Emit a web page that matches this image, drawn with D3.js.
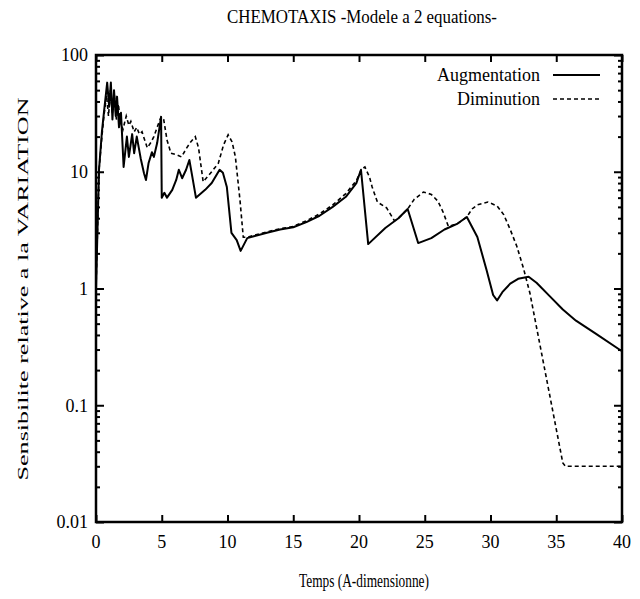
<!DOCTYPE html>
<html><head><meta charset="utf-8">
<script src="https://cdn.jsdelivr.net/npm/d3@7"></script>
<style>body{margin:0;background:#fff}svg{display:block}text{font-family:"Liberation Serif","Times New Roman",serif;fill:#000}</style>
</head><body>
<script>
const title = "CHEMOTAXIS -Modele a 2 equations-";
const xLabel = "Temps (A-dimensionne)";
const yLabel = "Sensibilite relative a la  VARIATION";
const seriesNames = ["Augmentation", "Diminution"];
const xTicks = [0, 5, 10, 15, 20, 25, 30, 35, 40];
const yTicks = [0.01, 0.1, 1, 10, 100];
const yTickLabels = ["0.01", "0.1", "1", "10", "100"];

const augT = [0,0.23,0.45,0.6,0.85,1.0,1.13,1.25,1.37,1.5,1.6,1.75,1.9,2.1,2.35,2.5,2.75,2.9,3.1,3.4,3.65,3.8,4.0,4.25,4.4,4.65,4.95,5.0,5.2,5.4,5.8,6.1,6.3,6.55,6.85,7.1,7.3,7.6,8.3,8.8,9.4,9.65,9.95,10.3,10.7,11.0,11.5,12.0,13.0,14.0,15.0,16.0,17.0,18.0,19.0,19.8,20.15,20.7,22.0,23.0,23.7,24.5,25.5,26.5,27.5,28.2,29.0,29.7,30.2,30.5,30.9,31.5,32.1,32.9,33.5,34.5,35.5,36.5,38.0,40.0];
const augV = [1,10.4,22,32,58,36,58,28,50,30,44,24,32,11,20,13.4,21,14.4,20,13,9.7,8.5,11.9,14.7,13.4,17.6,29.5,6.0,6.6,6.0,7.0,8.5,10.4,8.8,10.4,12.6,9.4,6.0,7.0,8.0,10.4,9.8,7.4,3.0,2.6,2.1,2.7,2.8,3.0,3.2,3.35,3.7,4.2,5.0,6.1,8.0,10.4,2.4,3.3,4.0,4.8,2.45,2.7,3.2,3.6,4.1,2.76,1.44,0.88,0.79,0.93,1.1,1.21,1.26,1.12,0.86,0.66,0.53,0.41,0.29];

const dimT = [0,0.23,0.45,0.6,0.8,0.95,1.1,1.25,1.4,1.55,1.7,1.85,2.05,2.3,2.5,2.65,2.9,3.1,3.3,3.5,3.65,3.9,4.2,4.4,4.65,4.95,5.15,5.4,5.7,6.1,6.5,6.9,7.2,7.55,7.8,8.15,8.7,9.3,9.7,10.05,10.35,10.6,10.95,11.2,11.5,12.0,13.0,14.0,15.0,16.0,17.0,18.0,19.0,19.8,20.2,20.45,20.8,21.0,21.4,22.1,22.7,23.0,23.7,24.2,24.9,25.5,26.0,26.4,26.8,27.5,28.2,28.6,29.0,29.8,30.5,31.0,31.5,32.0,32.5,33.0,34.3,35.5,35.7,40];
const dimV = [1,10.4,20,30,45,30,50,32,45,28,38,27,23,30,25,27,22,24,21,22,19.5,16,18,20,24,29.5,28,18.7,14.4,14,13.4,16,18,20,16,8.2,9.7,11.8,17,20.7,18,13.4,5.7,2.75,2.75,2.85,3.05,3.25,3.4,3.8,4.35,5.2,6.5,8.4,10.5,11,9,7.4,5.5,4.9,3.8,4.0,4.8,5.8,6.7,6.4,5.6,4.5,3.4,3.6,4.1,4.8,5.2,5.5,5.1,4.3,3.2,2.3,1.5,0.91,0.16,0.032,0.03,0.03];

const W = 640, H = 599;
const L = 96, R = 622, T = 55, B = 522;
const svg = d3.select("body").append("svg").attr("width", W).attr("height", H);

const x = d3.scaleLinear().domain([0, 40]).range([L, R]);
const y = d3.scaleLog().domain([0.01, 100]).range([B, T]);

const minor = [];
for (let e = -2; e < 2; e++) for (let k = 2; k <= 9; k++) minor.push(k * Math.pow(10, e));

const g = svg.append("g");
g.append("g").attr("transform", `translate(${L},0)`)
  .call(d3.axisRight(y).tickValues(minor).tickSize(4).tickFormat(""))
  .call(a => a.select(".domain").remove());
g.append("g").attr("transform", `translate(${L},0)`)
  .call(d3.axisRight(y).tickValues(yTicks).tickSize(8).tickFormat(""))
  .call(a => a.select(".domain").remove());
g.append("g").attr("transform", `translate(${R},0)`)
  .call(d3.axisLeft(y).tickValues(minor).tickSize(4).tickFormat(""))
  .call(a => a.select(".domain").remove());
g.append("g").attr("transform", `translate(${R},0)`)
  .call(d3.axisLeft(y).tickValues(yTicks).tickSize(8).tickFormat(""))
  .call(a => a.select(".domain").remove());
g.append("g").attr("transform", `translate(0,${B})`)
  .call(d3.axisTop(x).tickValues(xTicks).tickSize(7).tickFormat(""))
  .call(a => a.select(".domain").remove());
g.append("g").attr("transform", `translate(0,${T})`)
  .call(d3.axisBottom(x).tickValues(xTicks).tickSize(7).tickFormat(""))
  .call(a => a.select(".domain").remove());
g.selectAll(".tick line").attr("stroke", "#000").attr("stroke-width", 2);

svg.append("g").selectAll("text").data(yTicks).join("text")
  .attr("x", L - 8).attr("y", d => y(d)).attr("dy", "0.35em")
  .attr("text-anchor", "end").attr("font-size", 18)
  .text((d, i) => yTickLabels[i]);
svg.append("g").selectAll("text").data(xTicks).join("text")
  .attr("x", d => x(d)).attr("y", 548)
  .attr("text-anchor", "middle").attr("font-size", 18)
  .text(d => d);

svg.append("rect").attr("x", L).attr("y", T).attr("width", R - L).attr("height", B - T)
  .attr("fill", "none").attr("stroke", "#000").attr("stroke-width", 2.5);

const line = d3.line().x(d => x(d[0])).y(d => y(d[1]));
svg.append("path").datum(augT.map((t, i) => [t, augV[i]]))
  .attr("d", line).attr("fill", "none").attr("stroke", "#000").attr("stroke-width", 2)
  .attr("stroke-linejoin", "round");
svg.append("path").datum(dimT.map((t, i) => [t, dimV[i]]))
  .attr("d", line).attr("fill", "none").attr("stroke", "#000").attr("stroke-width", 1.6)
  .attr("stroke-dasharray", "4,3");

const leg = svg.append("g");
[[seriesNames[0], 75, null], [seriesNames[1], 99, "4,3"]].forEach(([name, ly, dash]) => {
  leg.append("text").attr("x", 540).attr("y", ly).attr("dy", "0.35em")
    .attr("text-anchor", "end").attr("font-size", 18).text(name);
  leg.append("line").attr("x1", 553).attr("x2", 600).attr("y1", ly).attr("y2", ly)
    .attr("stroke", "#000").attr("stroke-width", dash ? 1.6 : 2)
    .attr("stroke-dasharray", dash);
});

svg.append("text").attr("x", 362).attr("y", 23).attr("text-anchor", "middle")
  .attr("font-size", 18).attr("textLength", 270).attr("lengthAdjust", "spacingAndGlyphs").text(title);
svg.append("text").attr("x", 364).attr("y", 587).attr("text-anchor", "middle")
  .attr("font-size", 18).attr("textLength", 130).attr("lengthAdjust", "spacingAndGlyphs").text(xLabel);
svg.append("text").attr("transform", "translate(28,289) rotate(-90)")
  .attr("text-anchor", "middle").attr("font-size", 15)
  .attr("textLength", 383).attr("lengthAdjust", "spacingAndGlyphs").text(yLabel);
</script>
</body></html>
